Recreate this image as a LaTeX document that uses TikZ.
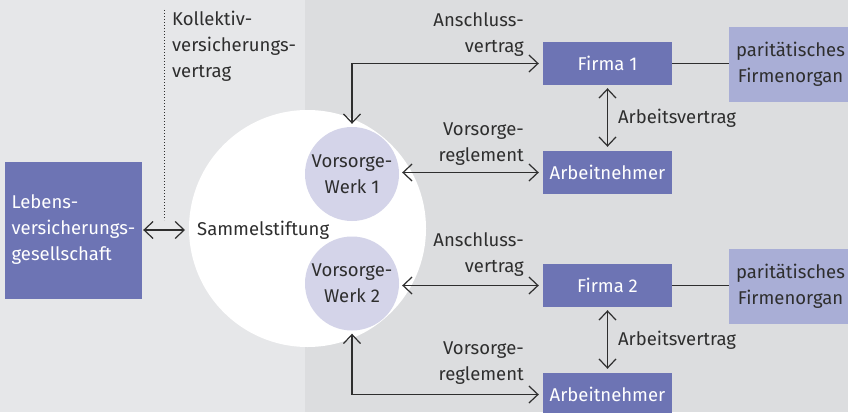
\documentclass[tikz,border=0pt]{standalone}
\usepackage{fontspec}
\setmainfont{Fira Sans}
\usetikzlibrary{arrows.meta,calc,positioning}
\definecolor{VBlue}{HTML}{6D74B4}
\definecolor{VLight}{HTML}{A9AED6}
\definecolor{VLilac}{HTML}{D4D4E9}
\definecolor{VBgLeft}{HTML}{E6E7E9}
\definecolor{VBgRight}{HTML}{DCDDDF}
\definecolor{VText}{HTML}{2E2E2E}
\tikzset{
    block/.style = {fill=VBlue, text=white,
        minimum height=43pt,
        minimum width=129pt, align=center},
    organ/.style = {fill=VLight, text=VText, minimum height=75pt, minimum width=123pt, align=center},
    werk/.style = {circle, fill=VLilac, text=VText, minimum size=94pt, inner sep=0pt, align=center},
    lbl/.style = {text=VText, inner sep=0pt},
    arrow/.style={draw=VText, line width=1.2pt,
        {Straight Barb[length=9pt,width=17pt]}-{Straight Barb[length=9pt,width=17pt]},
        shorten <=3pt, shorten >=4pt}
}

\begin{document}
\begin{tikzpicture}[x=1pt,y=-1pt,font=\fontsize{18.5}{26}\selectfont]
  \useasboundingbox (0,0) rectangle (848,412);
  \clip (0,0) rectangle (848,412);
  \fill[VBgLeft] (0,0) rectangle (305,412);
  \fill[VBgRight] (305,0) rectangle (848,412);
  % Sammelstiftung
  \node[circle,fill=white,minimum size=237pt] (sammel) at (307.5,228.5) {};
  \node[lbl,anchor=west] (sammeltxt) at (197,230) {Sammelstiftung};
  \node[werk] (vw1) at (352,174) {Vorsorge-\\Werk 1};
  \node[werk] (vw2) at (352,283.5) {Vorsorge-\\Werk 2};
  \node[block,minimum width=137pt,minimum height=137pt,inner xsep=4pt,align=left]
    (lebens) at (73.5,230) {Lebens-\\versicherungs-\\gesellschaft};
  \node[lbl,anchor=west,align=left] (kollektiv) at (172,46) {Kollektiv-\\versicherungs-\\vertrag};
  \coordinate (kv) at (164,10);
  \draw[VText,dotted,line width=1pt] (kv) -- ++(0,210);
  \draw[arrow,shorten <=1pt] (lebens.east |- sammeltxt.west) -- ([xshift=-8pt]sammeltxt.west);
  \foreach \i/\y in {1/0,2/222}{
    \node[block] (firma\i) at (607.5,63.5+\y) {Firma \i};
    \node[block] (an\i) at (607.5,172.5+\y) {Arbeitnehmer};
    \node[organ] (organ\i) at (790.5,64.5+\y) {paritätisches\\Firmenorgan};
    \draw[VText,line width=1.2pt] (firma\i.east) -- (firma\i.east -| organ\i.west);
    \draw[arrow] (firma\i) -- node[lbl,right=10pt,align=left] {Arbeitsvertrag} (an\i);
  };
  \node[lbl,anchor=east,align=right] (ansch1) at (524,34.5) {Anschluss-\\vertrag};
  \node[lbl,anchor=east,align=right] (regl1) at (524,144) {Vorsorge-\\reglement};
  \node[lbl,anchor=east,align=right] (ansch2) at (524,254.5) {Anschluss-\\vertrag};
  \node[lbl,anchor=east,align=right] (regl2) at (524,363.5) {Vorsorge-\\reglement};
  \draw[arrow] (vw1.north) |- (firma1.west);
  \draw[arrow] (vw1.east |- an1.west) -- (an1.west);
  \draw[arrow] (vw2.east |- firma2.west) -- (firma2.west);
  \draw[arrow] (vw2.south) |- (an2.west);
\end{tikzpicture}
\end{document}
